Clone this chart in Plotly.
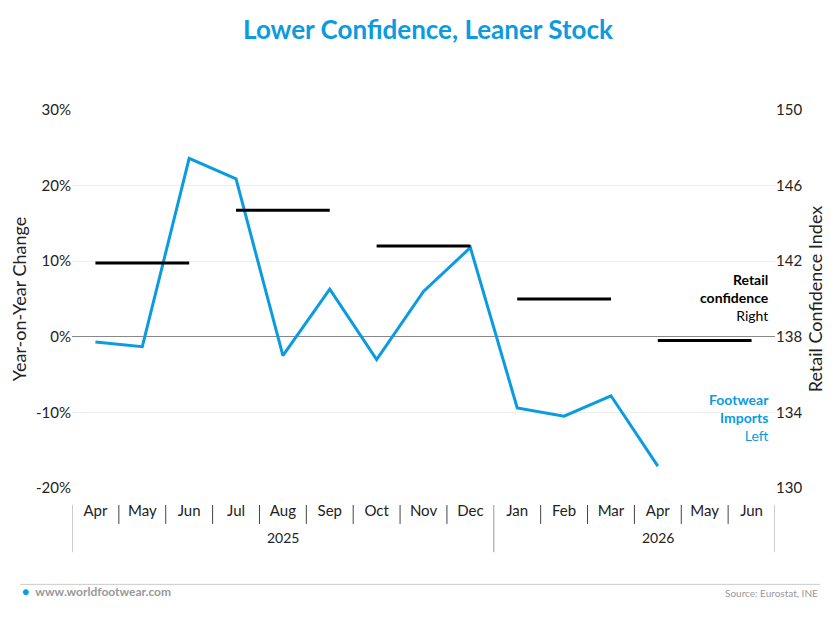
import plotly.graph_objects as go

# Dane z wykresu
months = ["Apr", "May", "Jun", "Jul", "Aug", "Sep", "Oct", "Nov", "Dec",
          "Jan", "Feb", "Mar", "Apr", "May", "Jun"]
imports = [-0.7, -1.3, 23.6, 20.9, -2.5, 6.3, -3.0, 6.0, 11.8, -9.4, -10.5, -7.8, -17.1]
confidence = [141.9, 144.7, 142.8, 140.0, 137.8]  # kwartalnie
quarter_start = [0, 3, 6, 9, 12]
years = ["2025", "2026"]
year_centers = [4, 12]

blue = "#0a9be0"
font = "Lato"

# Pozycje na osi X
x = list(range(len(months)))

fig = go.Figure()

# Import obuwia (lewa oś)
fig.add_trace(go.Scatter(x=x[:len(imports)], y=imports, mode="lines",
                         line=dict(color=blue, width=3), showlegend=False))

# Zaufanie konsumentów (prawa oś) - poziome odcinki na kwartał
for q, val in zip(quarter_start, confidence):
    fig.add_trace(go.Scatter(x=[q, q + 2], y=[val, val], mode="lines", yaxis="y2",
                             line=dict(color="black", width=3), showlegend=False))

# Linie podziału miesięcy i lat
for i in range(len(months) + 1):
    if i in (0, 9, 15):
        fig.add_shape(type="line", xref="x", yref="paper", x0=i - 0.5, x1=i - 0.5,
                      y0=-0.17, y1=-0.045, line=dict(color="#999", width=1))
    else:
        fig.add_shape(type="line", xref="x", yref="paper", x0=i - 0.5, x1=i - 0.5,
                      y0=-0.095, y1=-0.045, line=dict(color="#444", width=1))

for yr, c in zip(years, year_centers):
    fig.add_annotation(x=c, y=-0.16, xref="x", yref="paper", text=yr, showarrow=False,
                       font=dict(size=14, color="#222"))

# Legenda jako adnotacje
fig.add_annotation(x=0.995, y=0.505, xref="paper", yref="paper", xanchor="right",
                   text="<b>Retail<br>confidence</b><br>Right", showarrow=False, align="right",
                   font=dict(size=14, color="black"))
fig.add_annotation(x=0.995, y=0.11, xref="paper", yref="paper", xanchor="right",
                   text="<b>Footwear<br>Imports</b><br>Left", showarrow=False, align="right",
                   font=dict(size=14, color=blue))

# Stopka
fig.add_shape(type="line", xref="paper", yref="paper", x0=-0.074, x1=1.064,
              y0=-0.255, y1=-0.255, line=dict(color="#ccc", width=1))
fig.add_annotation(x=-0.074, y=-0.3, xref="paper", yref="paper", xanchor="left",
                   text="<span style='color:%s'>●</span>  <b>www.worldfootwear.com</b>" % blue,
                   showarrow=False, font=dict(size=12, color="#999"))
fig.add_annotation(x=1.064, y=-0.3, xref="paper", yref="paper", xanchor="right",
                   text="Source: Eurostat, INE", showarrow=False,
                   font=dict(size=10, color="#999"))

fig.update_layout(
    title=dict(text="<b>Lower Confidence, Leaner Stock</b>", x=0.5, y=0.965, yanchor="middle",
               font=dict(size=26, color=blue, family=font)),
    font=dict(family=font, size=15, color="#222"),
    xaxis=dict(tickmode="array", tickvals=x, ticktext=months, range=[-0.5, 14.5],
               showgrid=False, zeroline=False, ticks="", ticklabelstandoff=12,
               automargin=False),
    yaxis=dict(title=dict(text="Year-on-Year Change", standoff=8), range=[-20, 30],
               tickvals=[-20, -10, 0, 10, 20, 30],
               ticktext=["-20%", "-10%", "0%", "10%", "20%", "30%"], automargin=False,
               gridcolor="#eee", zeroline=True, zerolinecolor="#888", zerolinewidth=1),
    yaxis2=dict(title=dict(text="Retail Confidence Index", standoff=8), overlaying="y",
                side="right", automargin=False,
                range=[130, 150], tickvals=[130, 134, 138, 142, 146, 150], showgrid=False,
                zeroline=False),
    width=840, height=624,
    margin=dict(l=64, r=73, t=102, b=144),
    plot_bgcolor="white", paper_bgcolor="white",
)

fig.write_html("out.html")
